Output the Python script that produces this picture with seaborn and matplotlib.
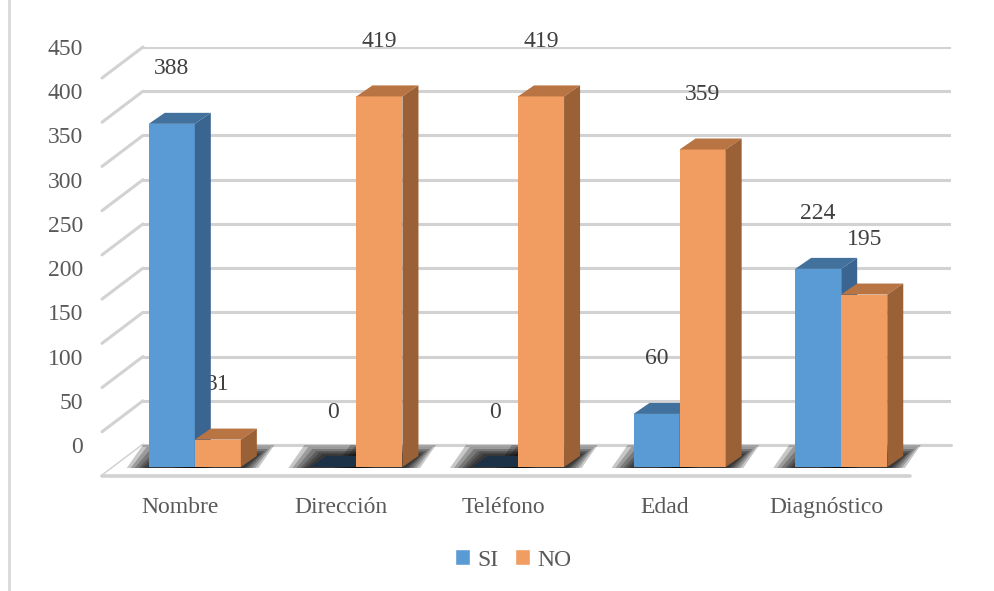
import numpy as np
import pandas as pd
import matplotlib
matplotlib.use("Agg")
import matplotlib.pyplot as plt
import seaborn as sns
from matplotlib.patches import Polygon, Patch
from matplotlib.lines import Line2D
from matplotlib.transforms import ScaledTranslation, IdentityTransform

# datos
categorias = ["Nombre", "Dirección", "Teléfono", "Edad", "Diagnóstico"]
series = ["SI", "NO"]
valores_si = [388, 0, 0, 60, 224]
valores_no = [31, 419, 419, 359, 195]
yticks = list(range(0, 451, 50))

colores = {
    "SI": ("#5b9bd5", "#41719c", "#3a6591"),
    "NO": ("#f19c60", "#b97444", "#9b6136"),
}
color_cero = "#1d3147"

df = pd.DataFrame({
    "categoria": categorias * 2,
    "serie": ["SI"] * len(categorias) + ["NO"] * len(categorias),
    "valor": valores_si + valores_no,
})

sns.set_style("white")
plt.rcParams["font.family"] = ["Liberation Serif", "DejaVu Sans"]

DPI = 100
fig = plt.figure(figsize=(9.95, 5.91), dpi=DPI)
ax = fig.add_axes([143 / 995, 1 - 445 / 591, (951 - 143) / 995, (445 - 47) / 591])
ax.patch.set_alpha(0)

sns.barplot(data=df, x="categoria", y="valor", hue="serie", order=categorias,
            hue_order=series, palette={s: colores[s][0] for s in series},
            saturation=1, width=0.57, dodge=True, legend=False, ax=ax,
            edgecolor="none")

ax.set_xlim(-0.5, 4.5)
ax.set_ylim(0, 450)
ax.set_yticks(yticks)
ax.set_yticklabels([str(v) for v in yticks], fontsize=17, color="#595959")
ax.tick_params(axis="y", length=0, pad=43)
ax.set_xticks([])
ax.set_xlabel("")
ax.set_ylabel("")
for s in ax.spines.values():
    s.set_visible(False)

px = lambda p: p / DPI
desplaz = ScaledTranslation(px(-29), px(-22), fig.dpi_scale_trans)
T = ax.transData + desplaz
prof = np.array([16, 11])      # profundidad de las barras en pixeles
piso = np.array([-41, -31])    # profundidad del piso / paredes


def poly(verts, color, z, alpha=1.0):
    p = Polygon(verts, closed=True, transform=IdentityTransform(), facecolor=color,
                edgecolor="none", alpha=alpha, zorder=z, clip_on=False)
    ax.add_patch(p)


def linea(xs, ys, z, lw=2.2):
    ax.add_line(Line2D(xs, ys, transform=IdentityTransform(), color="#d2d2d2",
                       lw=lw, zorder=z, clip_on=False))


# pared del fondo: lineas de la rejilla + diagonales de la pared lateral
for v in yticks:
    ax.axhline(v, color="#d2d2d2", lw=2.2, zorder=0.5)
    p = ax.transData.transform((-0.5, v))
    linea([p[0], p[0] + piso[0]], [p[1], p[1] + piso[1]], 0.5)

# piso
bl = ax.transData.transform((-0.5, 0))
br = ax.transData.transform((4.5, 0))
poly([bl, br, br + piso, bl + piso], "white", 0.9)
linea([bl[0] + piso[0], br[0] + piso[0]], [bl[1] + piso[1], br[1] + piso[1]], 0.95, lw=2.6)
linea([bl[0], br[0]], [bl[1], br[1]], 0.95)

# barras en 3D
for k, (serie, cont) in enumerate(zip(series, ax.containers)):
    frente, arriba, lado = colores[serie]
    for bar in cont:
        x, w, h = bar.get_x(), bar.get_width(), bar.get_height()
        bar.set_transform(T)
        bar.set_clip_on(False)
        bar.set_zorder(3 + k)
        fl = T.transform((x, 0))
        fr = T.transform((x + w, 0))
        tl = T.transform((x, h))
        tr = T.transform((x + w, h))
        # sombra difusa sobre el piso
        for e in [22, 18, 14, 10, 7, 4]:
            sh = [fl + [-e, -1], fr + [e * 0.8, -1],
                  fr + prof + [e * 0.8, e * 0.5], fl + prof + [-e, e * 0.5]]
            poly(sh, "black", 1.5, alpha=0.22)
        c_top = arriba if h > 0 else color_cero
        poly([tl, tr, tr + prof, tl + prof], c_top, 3.1 + k)
        if h > 0:
            poly([fr, tr, tr + prof, fr + prof], lado, 3.1 + k)
        # etiqueta de datos
        ax.text(x + w / 2, h, f"{h:.0f}",
                transform=T + ScaledTranslation(0, px(55), fig.dpi_scale_trans),
                ha="center", va="center", fontsize=17, color="#404040",
                zorder=2.5, clip_on=False)

# etiquetas de categorias
lab_tr = ax.get_xaxis_transform() + ScaledTranslation(px(-44), px(-68), fig.dpi_scale_trans)
for i, c in enumerate(categorias):
    ax.text(i, 0, c, transform=lab_tr, ha="center", va="baseline",
            fontsize=17, color="#595959", clip_on=False)

# leyenda
handles = [Patch(facecolor=colores[s][0], label=s) for s in series]
leg = fig.legend(handles=handles, loc="center", bbox_to_anchor=(513 / 995, 1 - 560 / 591),
                 ncol=2, frameon=False, fontsize=17, handlelength=0.65,
                 handleheight=0.65, handletextpad=0.3, columnspacing=0.7)
for t in leg.get_texts():
    t.set_color("#595959")

# borde izquierdo del area del grafico
fig.add_artist(Line2D([9 / 995, 9 / 995], [0, 1], transform=fig.transFigure,
                      color="#d9d9d9", lw=2))

fig.savefig("out.png", dpi=DPI)
